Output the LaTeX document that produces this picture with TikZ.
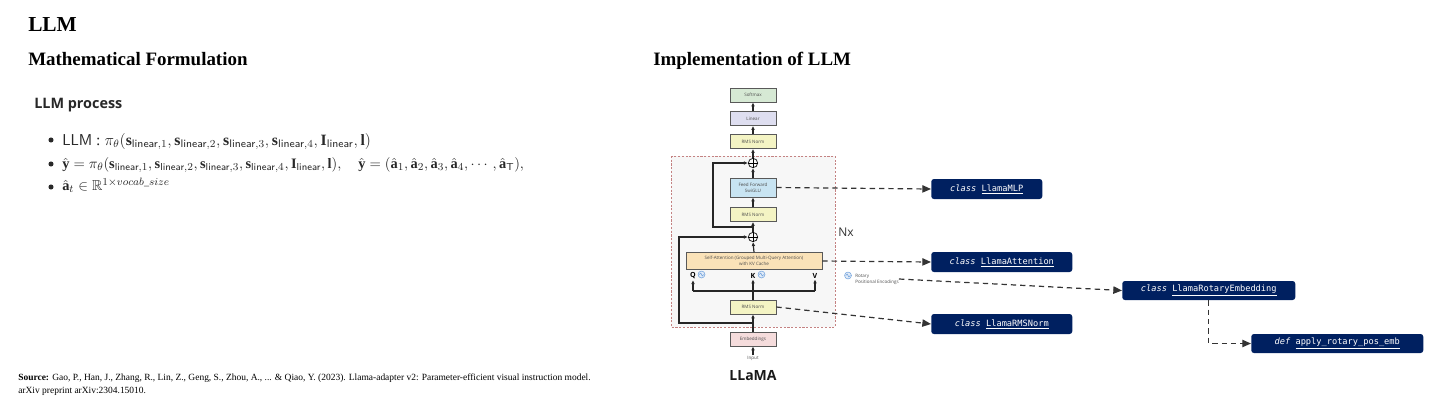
\documentclass[tikz,border=0pt]{standalone}
\usepackage{amsmath,amssymb}
\usepackage{fontspec}
\setmainfont{Liberation Serif}
\newfontfamily\osans{Open Sans}
\newfontfamily\dmono{DejaVu Sans Mono}
\usetikzlibrary{arrows.meta}
\definecolor{navy}{RGB}{0,32,96}
\definecolor{smgreen}{RGB}{214,233,212}
\definecolor{lingray}{RGB}{222,222,240}
\definecolor{rmsyellow}{RGB}{244,244,196}
\definecolor{ffblue}{RGB}{200,228,242}
\definecolor{attnfill}{RGB}{250,226,184}
\definecolor{embpink}{RGB}{245,220,220}
\definecolor{nxborder}{RGB}{196,130,130}
\definecolor{nxfill}{RGB}{247,247,247}
\definecolor{rotblue}{RGB}{110,160,220}
\definecolor{txtgray}{RGB}{40,40,40}
\tikzset{
  blk/.style={draw=black!65, line width=0.6pt, font=\osans\fontsize{3.4}{4.2}\selectfont,
    text=black!70, inner sep=0pt, align=center, minimum width=34.5pt, minimum height=10.5pt},
  codebox/.style={fill=navy, rounded corners=2pt, text=white, inner sep=0pt,
    font=\dmono\fontsize{6.5}{8}\selectfont, minimum height=15pt, anchor=west},
  arr/.style={-{Latex[length=3pt,width=2.8pt]}, line width=0.9pt, black!85},
  plain/.style={line width=0.9pt, black!85},
  dasharr/.style={dash pattern=on 4pt off 3pt, line width=0.9pt, black!80,
    -{Triangle[length=6.5pt,width=5.5pt]}},
  plus/.style={circle, draw=black!85, line width=0.6pt, minimum size=7pt, inner sep=0pt},
  rot/.pic={\draw[rotblue, fill=rotblue!20, line width=0.4pt] (0,0) circle[radius=2.6pt];
    \draw[rotblue, line width=0.4pt] (-1.8pt,0pt) .. controls (-0.9pt,1.6pt) and (0pt,1.2pt) .. (0pt,0pt)
      .. controls (0pt,-1.2pt) and (0.9pt,-1.6pt) .. (1.8pt,0pt);},
  qkv/.style={font=\osans\bfseries\fontsize{5.3}{6}\selectfont, inner sep=0.5pt},
  bline/.style={anchor=base west, inner sep=0pt, text=txtgray}
}
\newcommand{\slin}[1]{\mathbf{s}_{\textsf{linear},#1}}
\begin{document}
\begin{tikzpicture}[x=0.75pt,y=-0.75pt]
\path[use as bounding box] (0,0) rectangle (1440,405);

% ---------- left column ----------
\node[anchor=base west, inner sep=0pt, font=\bfseries\fontsize{16}{18}\selectfont] (title) at (28,31) {LLM};
\node[anchor=base west, inner sep=0pt, font=\bfseries\fontsize{14.2}{16}\selectfont] (mathf) at (28,65) {Mathematical Formulation};
\node[anchor=base west, inner sep=0pt, text=txtgray, font=\osans\bfseries\fontsize{10.8}{12}\selectfont] (proc) at (34,108) {LLM process};

\node[circle, fill=txtgray, inner sep=0pt, minimum size=3.8pt] (d1) at (51,140) {};
\node[circle, fill=txtgray, inner sep=0pt, minimum size=3.8pt] (d2) at (51,164) {};
\node[circle, fill=txtgray, inner sep=0pt, minimum size=3.8pt] (d3) at (51,187) {};
\node[bline, font=\fontsize{11.8}{13}\selectfont] (l1) at (62,145)
  {\textsf{LLM}\ : $\pi_\theta(\slin1, \slin2, \slin3, \slin4, \mathbf{I}_{\textsf{linear}}, \mathbf{l})$};
\node[bline, font=\fontsize{10.8}{12}\selectfont] (l2) at (62,168.5)
  {$\hat{\mathbf{y}} = \pi_\theta(\slin1, \slin2, \slin3, \slin4, \mathbf{I}_{\textsf{linear}}, \mathbf{l}),\quad
    \hat{\mathbf{y}} = (\hat{\mathbf{a}}_1, \hat{\mathbf{a}}_2, \hat{\mathbf{a}}_3, \hat{\mathbf{a}}_4, \cdots, \hat{\mathbf{a}}_{\mathsf{T}}),$};
\node[bline, font=\fontsize{10.8}{12}\selectfont] (l3) at (62,190.5)
  {$\hat{\mathbf{a}}_t \in \mathbb{R}^{1\times vocab\_size}$};

\node[anchor=north west, inner sep=0pt, align=left, font=\fontsize{7.1}{9.2}\selectfont] (src) at (18,374)
  {\textbf{Source:} Gao, P., Han, J., Zhang, R., Lin, Z., Geng, S., Zhou, A., ... \& Qiao, Y. (2023). Llama-adapter v2: Parameter-efficient visual instruction model.\\
   arXiv preprint arXiv:2304.15010.};

% ---------- right column ----------
\node[anchor=base west, inner sep=0pt, font=\bfseries\fontsize{14.2}{16}\selectfont] (impl) at (653,65) {Implementation of LLM};

\draw[nxborder, dash pattern=on 1.6pt off 1.2pt, line width=0.6pt, fill=nxfill] (671,156) rectangle (835,327);
\node[font=\osans\fontsize{9}{10}\selectfont, text=black!80, inner sep=0pt] (nx) at (846,232) {Nx};

\node[blk, fill=smgreen] (soft) at (753,95) {Softmax};
\node[blk, fill=lingray] (lin) at (753,118.5) {Linear};
\node[blk, fill=rmsyellow] (rms3) at (753,141.5) {RMS Norm};
\node[plus] (p1) at (753,163) {};
\node[blk, fill=ffblue, minimum height=14.25pt] (ff) at (753,187.5) {Feed Forward\\SwiGLU};
\node[blk, fill=rmsyellow] (rms2) at (753,214.5) {RMS Norm};
\node[plus] (p2) at (753,237) {};
\node[blk, fill=attnfill, minimum width=102pt, minimum height=12.5pt] (attn) at (754,261) {Self-Attention (Grouped Multi-Query Attention)\\with KV Cache};
\node[qkv] (q) at (693,276) {Q};
\node[qkv] (k) at (753,276) {K};
\node[qkv] (v) at (815,276) {V};
\pic at (701.5,274.5) {rot};
\pic at (761.5,274.5) {rot};
\node[blk, fill=rmsyellow] (rms1) at (753,307) {RMS Norm};
\node[blk, fill=embpink] (emb) at (753,339) {Embeddings};
\node[font=\osans\fontsize{3.4}{4}\selectfont, text=black!70, inner sep=0.5pt] (inp) at (753,358.5) {Input};
\node[font=\osans\bfseries\fontsize{10.5}{12}\selectfont, text=black!90, inner sep=0pt] (llama) at (753,376) {LLaMA};

\draw (p1.north) -- (p1.south) (p1.west) -- (p1.east);
\draw (p2.north) -- (p2.south) (p2.west) -- (p2.east);

\coordinate (r1b) at (753,227);
\coordinate (r1l) at (713,227);
\coordinate (r2b) at (753,323);
\coordinate (r2l) at (679,323);
\coordinate (hq) at (693,291);
\coordinate (hk) at (753,291);
\coordinate (hv) at (815,291);

\draw[arr] (inp.north) -- (emb.south);
\draw[arr] (emb.north) -- (rms1.south);
\draw[plain] (hq) -- (hv);
\draw[plain] (rms1.north) -- (hk);
\draw[arr] (hq) -- (q.south);
\draw[arr] (hk) -- (k.south);
\draw[arr] (hv) -- (v.south);
\draw[arr] (attn.north) -- (p2.south);
\draw[arr] (r2b) -- (r2l) |- (p2.west);
\draw[arr] (p2.north) -- (rms2.south);
\draw[arr] (rms2.north) -- (ff.south);
\draw[arr] (r1b) -- (r1l) |- (p1.west);
\draw[arr] (ff.north) -- (p1.south);
\draw[arr] (p1.north) -- (rms3.south);
\draw[arr] (rms3.north) -- (lin.south);
\draw[arr] (lin.north) -- (soft.south);

\pic at (848,275.5) {rot};
\node[anchor=west, align=left, inner sep=0pt, font=\osans\fontsize{3.4}{4.6}\selectfont, text=black!70] (rotlbl) at (855,279) {Rotary\\Positional Encodings};

% code boxes
\node[codebox, minimum width=83.25pt] (mlp) at (931,189) {\itshape class\upshape\ \underline{LlamaMLP}};
\node[codebox, minimum width=105.75pt] (cattn) at (931,262) {\itshape class\upshape\ \underline{LlamaAttention}};
\node[codebox, minimum width=105.75pt] (crms) at (931,324) {\itshape class\upshape\ \underline{LlamaRMSNorm}};
\node[codebox, minimum width=129.75pt, minimum height=14.25pt] (crot) at (1122,290.5) {\itshape class\upshape\ \underline{LlamaRotaryEmbedding}};
\node[codebox, minimum width=129pt, minimum height=14.25pt] (cdef) at (1251,343.5) {\itshape def\upshape\ \underline{apply\_rotary\_pos\_emb}};

\draw[dasharr] (ff.east) -- (mlp.west);
\draw[dasharr] (attn.east) -- (cattn.west);
\draw[dasharr] (rms1.east) -- (crms.west);
\draw[dasharr] (rotlbl.east) -- (crot.west);
\draw[dasharr] (crot.south) |- (cdef.west);
\end{tikzpicture}
\end{document}
